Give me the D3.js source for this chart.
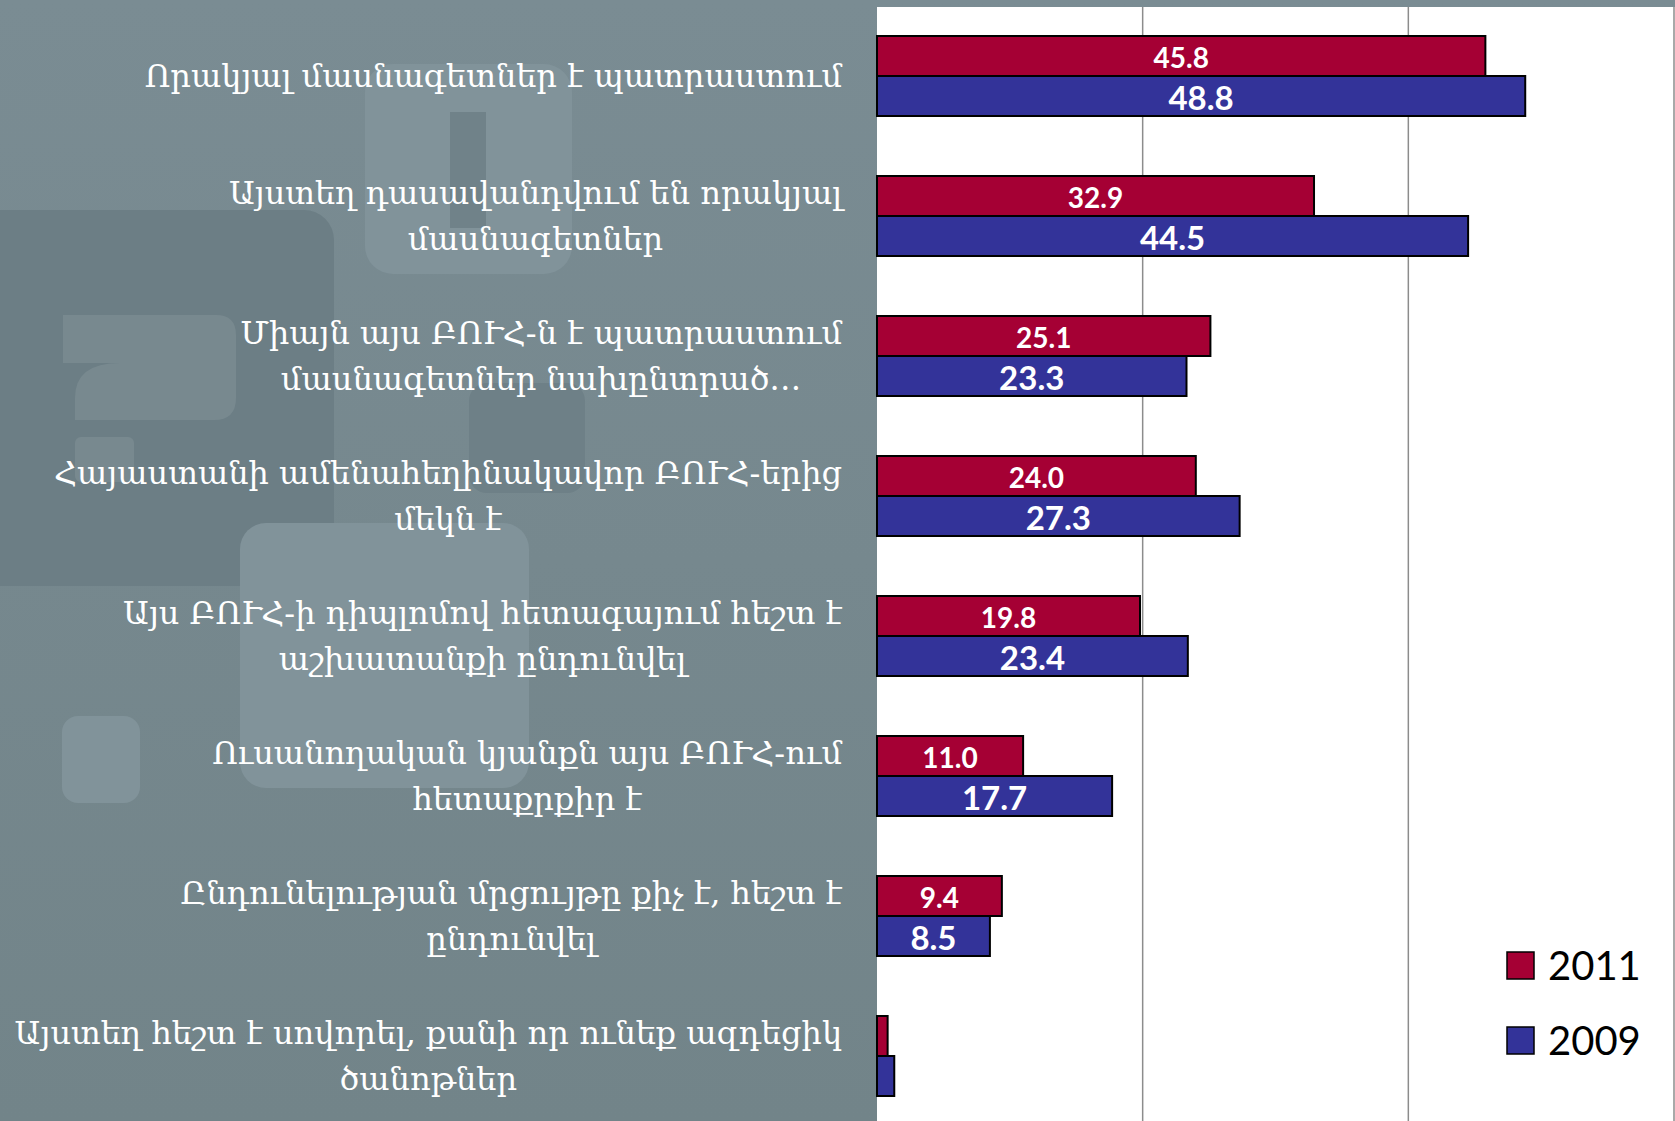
<!DOCTYPE html>
<meta charset="utf-8">
<head>
    <style>
        body{
            margin: 0;
            background-color: #76888f;
        }
        .cat text{
            fill: white;
            font-family: "DejaVu Serif", serif;
        }
    </style>
</head>
<body>
<div id="chart"></div>

<script src="https://d3js.org/d3.v7.min.js"></script>
<script>

    // categories (one array of lines per label, as wrapped in the original)
    const categories = [
        ["Որակյալ մասնագետներ է պատրաստում"],
        ["Այստեղ դասավանդվում են որակյալ", "մասնագետներ"],
        ["Միայն այս ԲՈՒՀ-ն է պատրաստում", "մասնագետներ նախընտրած…"],
        ["Հայաստանի ամենահեղինակավոր ԲՈՒՀ-երից", "մեկն է"],
        ["Այս ԲՈՒՀ-ի դիպլոմով հետագայում հեշտ է", "աշխատանքի ընդունվել"],
        ["Ուսանողական կյանքն այս ԲՈՒՀ-ում", "հետաքրքիր է"],
        ["Ընդունելության մրցույթը քիչ է, հեշտ է", "ընդունվել"],
        ["Այստեղ հեշտ է սովորել, քանի որ ունեք ազդեցիկ", "ծանոթներ"]
    ];
    const series = ["2011", "2009"];
    const values2011 = [45.8, 32.9, 25.1, 24.0, 19.8, 11.0, 9.4, 0.8];
    const values2009 = [48.8, 44.5, 23.3, 27.3, 23.4, 17.7, 8.5, 1.3];
    const xTicks = [0, 20, 40, 60];

    const colors = {"2011": "#a50034", "2009": "#333399"};

    const W = 1675, H = 1121;
    const plotLeft = 877, plotTop = 7;

    const svg = d3.select("#chart")
        .append("svg")
        .attr("width", W)
        .attr("height", H)
        .style("display", "block");

    // slide background
    const defs = svg.append("defs");
    const grad = defs.append("linearGradient")
        .attr("id", "bg").attr("x1", 0).attr("y1", 0).attr("x2", 0).attr("y2", 1);
    grad.append("stop").attr("offset", "0%").attr("stop-color", "#7a8c93");
    grad.append("stop").attr("offset", "100%").attr("stop-color", "#728489");
    svg.append("rect").attr("width", W).attr("height", H).attr("fill", "url(#bg)");

    // faint decorative shapes behind the labels
    const deco = svg.append("g");
    deco.append("rect").attr("x", -30).attr("y", 210).attr("width", 364).attr("height", 376)
        .attr("rx", 30).attr("fill", "#6c7e85");
    deco.append("rect").attr("x", 365).attr("y", 64).attr("width", 207).attr("height", 210)
        .attr("rx", 28).attr("fill", "#81939a");
    deco.append("rect").attr("x", 450).attr("y", 112).attr("width", 36).attr("height", 116)
        .attr("fill", "#708289");
    deco.append("rect").attr("x", 469).attr("y", 383).attr("width", 116).attr("height", 110)
        .attr("rx", 18).attr("fill", "#6e8087");
    deco.append("path")
        .attr("d", "M63,315 H216 Q236,315 236,335 V398 Q236,420 214,420 H75 V398 Q75,363 120,363 H179 V363 H63 Z")
        .attr("fill", "#78898f");
    deco.append("rect").attr("x", 75).attr("y", 437).attr("width", 59).attr("height", 45)
        .attr("rx", 6).attr("fill", "#78898f");
    deco.append("rect").attr("x", 240).attr("y", 523).attr("width", 289).attr("height", 265)
        .attr("rx", 26).attr("fill", "#81939a");
    deco.append("rect").attr("x", 62).attr("y", 716).attr("width", 78).attr("height", 87)
        .attr("rx", 16).attr("fill", "#81939a");

    // plot area
    svg.append("rect")
        .attr("x", plotLeft).attr("y", plotTop)
        .attr("width", W - plotLeft).attr("height", H - plotTop)
        .attr("fill", "white");

    const x = d3.scaleLinear().domain([0, 60]).range([plotLeft, W - 1]);
    const y = d3.scaleBand().domain(d3.range(categories.length))
        .range([6, 1126]).paddingInner(0.4286).paddingOuter(0.2143);
    const ySub = d3.scaleBand().domain(series).range([0, y.bandwidth()]);

    // gridlines
    svg.append("g")
        .selectAll("line")
        .data(xTicks.filter(d => d > 0))
        .join("line")
        .attr("x1", d => x(d)).attr("x2", d => x(d))
        .attr("y1", plotTop).attr("y2", H)
        .attr("stroke", "#8c8c8c")
        .attr("stroke-width", 1.5);

    const rows = categories.map((c, i) => ({i: i, "2011": values2011[i], "2009": values2009[i]}));

    // bars
    const groups = svg.append("g")
        .selectAll("g")
        .data(rows)
        .join("g")
        .attr("transform", d => `translate(0,${y(d.i)})`);

    groups.selectAll("rect")
        .data(d => series.map(s => ({s: s, v: d[s]})))
        .join("rect")
        .attr("x", x(0))
        .attr("y", d => ySub(d.s))
        .attr("width", d => x(d.v) - x(0))
        .attr("height", ySub.bandwidth())
        .attr("fill", d => colors[d.s])
        .attr("stroke", "black")
        .attr("stroke-width", 2);

    // value labels
    groups.selectAll("text")
        .data(d => series.map(s => ({s: s, v: d[s]})).filter(e => e.v > 3))
        .join("text")
        .attr("x", d => (x(0) + x(d.v)) / 2)
        .attr("y", d => ySub(d.s) + ySub.bandwidth() / 2 + 1)
        .attr("text-anchor", "middle")
        .attr("dominant-baseline", "central")
        .attr("fill", "white")
        .style("font-family", "Lato, sans-serif")
        .style("font-weight", "bold")
        .style("font-size", d => d.s === "2011" ? "28px" : "33px")
        .text(d => d.v.toFixed(1));

    // category labels, centred lines, block aligned to the axis
    const labelRight = 842, lineGap = 46;
    const cat = svg.append("g").attr("class", "cat");
    categories.forEach(function (lines, i) {
        const cy = y(i) + y.bandwidth() / 2;
        const t = cat.append("text")
            .attr("text-anchor", "middle")
            .style("font-size", "32px");
        lines.forEach(function (ln, k) {
            t.append("tspan")
                .attr("y", cy + (k - (lines.length - 1) / 2) * lineGap)
                .attr("dominant-baseline", "central")
                .text(ln);
        });
        let maxW = 0;
        t.selectAll("tspan").each(function () {
            maxW = Math.max(maxW, this.getComputedTextLength());
        });
        t.selectAll("tspan").attr("x", labelRight - maxW / 2);
    });

    // legend
    const legend = svg.append("g")
        .selectAll("g")
        .data(series)
        .join("g")
        .attr("transform", (d, i) => `translate(1507,${952 + i * 75})`);
    legend.append("rect")
        .attr("width", 27).attr("height", 27)
        .attr("fill", d => colors[d])
        .attr("stroke", "black")
        .attr("stroke-width", 1.5);
    legend.append("text")
        .attr("x", 41).attr("y", 28)
        .style("font-family", "Lato, sans-serif")
        .style("font-size", "40px")
        .attr("fill", "black")
        .text(d => d);

</script>
</body>
